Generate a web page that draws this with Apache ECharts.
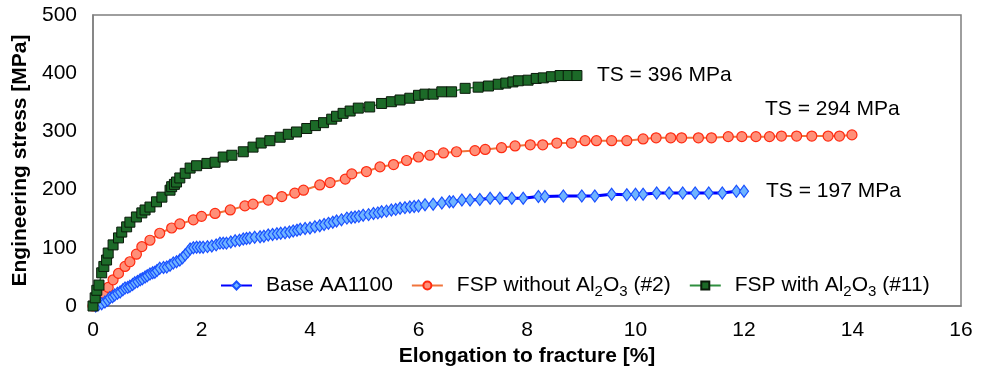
<!DOCTYPE html>
<html>
<head>
<meta charset="utf-8">
<script src="https://cdn.jsdelivr.net/npm/echarts@6/dist/echarts.min.js"></script>
<style>html,body{margin:0;padding:0;background:#fff;}#c{width:988px;height:379px;}</style>
</head>
<body>
<div id="c"></div>
<script>
var seriesNames = ['Base AA1100', 'FSP without Al2O3 (#2)', 'FSP with Al2O3 (#11)'];
var tsLabels = ['TS = 197 MPa', 'TS = 294 MPa', 'TS = 396 MPa'];
var xTicks = [0, 2, 4, 6, 8, 10, 12, 14, 16];
var yTicks = [0, 100, 200, 300, 400, 500];

var baseX = [0.05,0.1,0.16,0.22,0.27,0.31,0.36,0.4,0.45,0.5,
0.55,0.59,0.64,0.68,0.73,0.77,0.82,0.87,0.91,0.96,
1.0,1.05,1.1,1.14,1.18,1.23,1.3,1.36,1.42,1.48,
1.54,1.6,1.65,1.7,1.75,1.79,1.85,1.91,1.97,2.03,
2.11,2.19,2.27,2.34,2.4,2.46,2.54,2.62,2.7,2.77,
2.83,2.89,2.98,3.08,3.15,3.23,3.31,3.39,3.46,3.54,
3.62,3.69,3.76,3.82,3.91,4.0,4.09,4.18,4.26,4.34,
4.42,4.49,4.58,4.68,4.76,4.83,4.9,4.98,5.08,5.17,
5.25,5.32,5.41,5.5,5.58,5.66,5.75,5.84,5.92,6.0,
6.12,6.27,6.43,6.57,6.64,6.8,6.95,7.13,7.32,7.5,
7.72,7.93,8.21,8.33,8.67,9.01,9.25,9.56,9.84,10.0,
10.14,10.39,10.62,10.87,11.1,11.35,11.6,11.86,12.0];
var baseY = [0,2,4,7,10,14,16,19,22,24,
28,31,32,34,37,40,42,45,47,50,
52,55,57,58,61,65,66,67,70,74,
76,79,83,88,93,98,100,101,101,101,
102,103,105,108,108,108,110,112,113,115,
116,117,118,119,120,122,123,124,125,126,
127,129,130,132,133,134,136,138,140,142,
144,146,148,151,152,153,154,156,157,159,
160,162,163,165,166,168,169,170,171,172,
174,175,177,179,179,182,182,183,185,185,
185,185,188,188,189,189,189,192,191,192,
192,194,194,194,194,194,194,197,197];

var fspX = [0,0.04,0.1,0.19,0.28,0.37,0.47,0.59,0.68,0.8,
0.9,1.05,1.23,1.45,1.6,1.85,2.0,2.25,2.53,2.8,
2.95,3.23,3.48,3.72,3.88,4.18,4.37,4.65,4.77,5.04,
5.29,5.54,5.78,6.0,6.21,6.46,6.7,7.04,7.23,7.53,
7.78,8.06,8.29,8.55,8.82,9.07,9.28,9.56,9.84,10.14,
10.38,10.65,10.85,11.16,11.4,11.71,11.96,12.22,12.47,12.69,
12.97,13.25,13.55,13.76,13.99];
var fspY = [0,7,14,22,32,45,56,68,76,89,
102,113,125,134,141,148,154,159,165,172,
175,182,188,194,199,208,212,218,227,231,
239,243,250,256,259,263,265,267,269,272,
275,277,277,280,280,284,284,284,284,287,
289,289,289,289,289,291,291,291,291,292,
292,292,292,292,294];

var alX = [0,0.04,0.07,0.11,0.16,0.2,0.25,0.28,0.37,0.47,
0.53,0.62,0.68,0.8,0.9,0.96,1.05,1.17,1.27,1.42,
1.45,1.5,1.54,1.6,1.7,1.79,1.91,2.1,2.25,2.4,
2.56,2.77,2.95,3.1,3.26,3.45,3.6,3.75,3.94,4.1,
4.25,4.4,4.49,4.61,4.74,4.89,5.1,5.32,5.5,5.66,
5.84,6.0,6.12,6.27,6.43,6.61,6.86,7.1,7.29,7.47,
7.61,7.74,7.84,8.02,8.17,8.3,8.45,8.61,8.76,8.92];
var alY = [0,14,27,36,57,68,79,91,105,117,
127,136,144,153,160,165,170,179,187,199,
205,209,213,220,228,237,241,245,247,256,
259,265,273,280,284,290,295,299,305,310,
315,321,326,331,335,340,342,348,351,354,
357,362,364,364,368,368,374,376,378,381,
383,385,387,388,391,392,394,396,396,396];

function pairs(xs, ys) { return xs.map(function (x, i) { return [x, ys[i]]; }); }

var FONT = 'Liberation Sans, Arial, sans-serif';
var chart = echarts.init(document.getElementById('c'), null, {renderer: 'canvas'});

function endLbl(i, off) {
  return {
    show: true,
    formatter: tsLabels[i],
    color: '#000',
    fontFamily: FONT,
    fontSize: 21,
    offset: off
  };
}

chart.setOption({
  animation: false,
  backgroundColor: '#fff',
  textStyle: {fontFamily: FONT},
  grid: {left: 93, right: 27, top: 15, bottom: 73, show: true, borderColor: '#7f7f7f', borderWidth: 1.5, containLabel: false},
  xAxis: {
    type: 'value', min: 0, max: 16, interval: 2,
    name: 'Elongation to fracture [%]', nameLocation: 'middle', nameGap: 40,
    nameTextStyle: {fontFamily: FONT, fontSize: 21, fontWeight: 'bold', color: '#000'},
    axisLine: {show: true, lineStyle: {color: '#7f7f7f', width: 1.5}},
    axisTick: {show: false},
    splitLine: {show: false},
    axisLabel: {fontFamily: FONT, fontSize: 21, color: '#000', margin: 14,
      formatter: function (v) { return xTicks.indexOf(v) >= 0 ? String(v) : ''; }}
  },
  yAxis: {
    type: 'value', min: 0, max: 500, interval: 100,
    name: 'Engineering stress [MPa]', nameLocation: 'middle', nameGap: 56,
    nameTextStyle: {fontFamily: FONT, fontSize: 21, fontWeight: 'bold', color: '#000'},
    axisLine: {show: true, lineStyle: {color: '#7f7f7f', width: 1.5}},
    axisTick: {show: false},
    splitLine: {show: false},
    axisLabel: {fontFamily: FONT, fontSize: 21, color: '#000', margin: 16,
      formatter: function (v) { return yTicks.indexOf(v) >= 0 ? String(v) : ''; }}
  },
  legend: {
    left: 215, top: 270, orient: 'horizontal',
    itemWidth: 31, itemHeight: 10, itemGap: 18,
    data: seriesNames,
    formatter: function (n) { return n.replace('Al2O3', 'Al{s|2}O{s|3}'); },
    textStyle: {fontFamily: FONT, fontSize: 21, color: '#000', padding: [0, 0, 0, 9],
      rich: {s: {fontFamily: FONT, fontSize: 15, color: '#000', padding: [12, 0, 0, 0]}}}
  },
  series: [
    {
      name: seriesNames[0], type: 'line', data: pairs(baseX, baseY),
      symbol: 'diamond', symbolSize: [9, 12], showAllSymbol: true,
      lineStyle: {color: '#0000ff', width: 3},
      itemStyle: {color: '#6fb4ff', borderColor: '#1a50ff', borderWidth: 1.2},
      endLabel: endLbl(0, [14, 0]), z: 3
    },
    {
      name: seriesNames[1], type: 'line', data: pairs(fspX, fspY),
      symbol: 'circle', symbolSize: 10, showAllSymbol: true,
      lineStyle: {color: '#f0743c', width: 2},
      itemStyle: {color: '#ff8f78', borderColor: '#ff2a10', borderWidth: 1.2},
      endLabel: endLbl(1, [-95, -26]), z: 2
    },
    {
      name: seriesNames[2], type: 'line', data: pairs(alX, alY),
      symbol: 'rect', symbolSize: 10, showAllSymbol: true,
      lineStyle: {color: '#2f8f3f', width: 1.5},
      itemStyle: {color: '#1c6a28', borderColor: '#0a1a0a', borderWidth: 1},
      endLabel: endLbl(2, [12, 0]), z: 4
    }
  ]
});
</script>
</body>
</html>
